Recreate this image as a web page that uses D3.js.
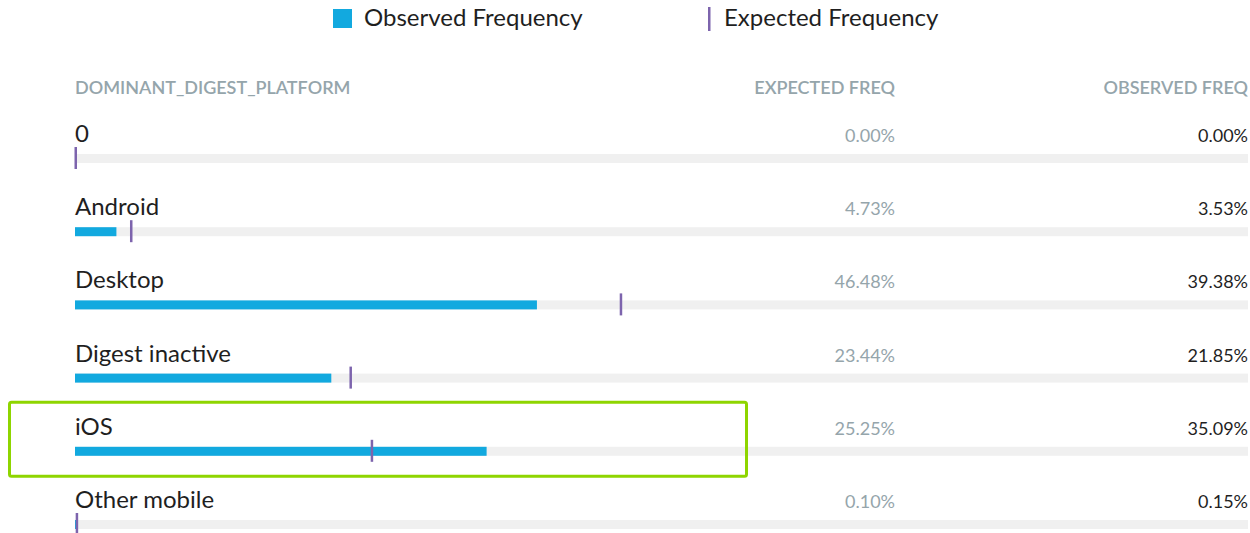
<!DOCTYPE html>
<html><head><meta charset="utf-8">
<script src="https://cdn.jsdelivr.net/npm/d3@7"></script>
<style>
html,body{margin:0;padding:0;background:#fff;}
svg{display:block;font-family:Lato, "Open Sans", sans-serif;}
</style></head>
<body>
<svg id="chart" width="1250" height="533"></svg>
<script>
const categories = ["0", "Android", "Desktop", "Digest inactive", "iOS", "Other mobile"];
const expectedFreq = [0.00, 4.73, 46.48, 23.44, 25.25, 0.10];
const observedFreq = [0.00, 3.53, 39.38, 21.85, 35.09, 0.15];
const headers = ["DOMINANT_DIGEST_PLATFORM", "EXPECTED FREQ", "OBSERVED FREQ"];
const legendLabels = ["Observed Frequency", "Expected Frequency"];
const highlighted = "iOS";

const svg = d3.select("#chart");
const x = d3.scaleLinear().domain([0, 100]).range([75, 1248]);
const y = d3.scalePoint().domain(categories).range([154, 520]);
const fmt = d => d.toFixed(2) + "%";

const C = {bar:"#12a9df", tick:"#7d64ad", track:"#f0f0f0", gray:"#95a5ab", text:"#1f1f1f", green:"#8ed500"};

// legend
const lg = svg.append("g");
lg.append("rect").attr("x",333).attr("y",9).attr("width",19).attr("height",19).attr("fill",C.bar);
lg.append("text").attr("x",364).attr("y",26).attr("font-size",24).attr("fill",C.text).text(legendLabels[0]);
lg.append("rect").attr("x",708).attr("y",7).attr("width",2.5).attr("height",24).attr("fill",C.tick);
lg.append("text").attr("x",724).attr("y",26).attr("font-size",24).attr("fill",C.text).text(legendLabels[1]);

// headers
svg.append("text").attr("x",75).attr("y",94).attr("font-size",18).attr("fill",C.gray).attr("font-weight",600).text(headers[0]);
svg.append("text").attr("x",895).attr("y",94).attr("text-anchor","end").attr("font-size",18).attr("fill",C.gray).attr("font-weight",600).text(headers[1]);
svg.append("text").attr("x",1248).attr("y",94).attr("text-anchor","end").attr("font-size",18).attr("fill",C.gray).attr("font-weight",600).text(headers[2]);

const data = categories.map((c,i)=>({cat:c, exp:expectedFreq[i], obs:observedFreq[i]}));

const rows = svg.selectAll("g.row").data(data).join("g").attr("class","row")
  .attr("transform", d => `translate(0,${y(d.cat)})`);

rows.append("text").attr("x",75).attr("y",-12).attr("font-size",24).attr("fill",C.text).text(d=>d.cat);
rows.append("text").attr("x",895).attr("y",-12).attr("text-anchor","end").attr("font-size",18).attr("fill",C.gray).text(d=>fmt(d.exp));
rows.append("text").attr("x",1248).attr("y",-12).attr("text-anchor","end").attr("font-size",18).attr("fill",C.text).text(d=>fmt(d.obs));

rows.append("rect").attr("x",x(0)).attr("y",0).attr("width",x(100)-x(0)).attr("height",9).attr("fill",C.track);
rows.append("rect").attr("x",x(0)).attr("y",0).attr("width",d=>x(d.obs)-x(0)).attr("height",9).attr("fill",C.bar);
rows.append("rect").attr("x",d=>x(d.exp)-0.5).attr("y",-7).attr("width",2.5).attr("height",22).attr("fill",C.tick);

// highlight box
const hy = y(highlighted);
svg.append("rect").attr("x",9.5).attr("y",hy-44.5).attr("width",737).attr("height",74).attr("rx",2)
  .attr("fill","none").attr("stroke",C.green).attr("stroke-width",3);
</script>
</body></html>
